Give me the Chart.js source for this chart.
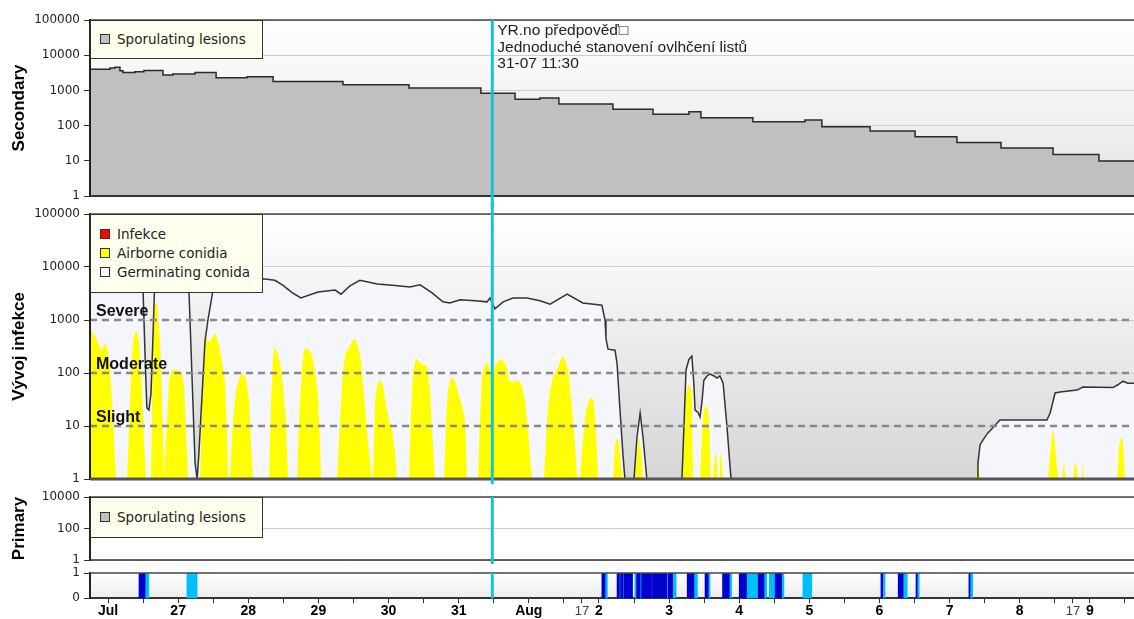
<!DOCTYPE html>
<html>
<head>
<meta charset="utf-8">
<script src="https://cdn.jsdelivr.net/npm/chart.js@4.4.1/dist/chart.umd.min.js"></script>
<style>
  html, body { margin: 0; padding: 0; background: #fff; overflow: hidden; }
  #wrap { position: relative; width: 1134px; height: 619px; }
  canvas { position: absolute; left: 0; }
  .legend { position: absolute; left: 90px; width: 173px; box-sizing: border-box; background: #ffffee; border: 1px solid #333;
            font: 13.5px "DejaVu Sans", sans-serif; color: #222; }
  .legend div { position: relative; height: 19px; line-height: 19px; padding-left: 26px; white-space: nowrap; }
  .legend span { position: absolute; left: 9px; top: 4px; width: 8px; height: 8px; border: 1px solid #333; }
</style>
</head>
<body>
<div id="wrap">
  <canvas id="c1" width="1134" height="208" style="top:0px"></canvas>
  <canvas id="c2" width="1134" height="289" style="top:202px"></canvas>
  <canvas id="c3" width="1134" height="87" style="top:485px"></canvas>
  <canvas id="c4" width="1134" height="59" style="top:561px"></canvas>
</div>
<script>
// time axis: hours since 26-07 00:00
const xMin = -6.16, xMax = 351.1;
const nowHour = 131.5; // 31-07 11:30
const nowNote = ['YR.no předpověď□', 'Jednoduché stanovení ovlhčení listů', '31-07 11:30'];

const dayTickHours = [0, 24, 48, 72, 96, 120, 144, 168, 192, 216, 240, 264, 288, 312, 336];
const dayTickLabels = ['Jul', '27', '28', '29', '30', '31', 'Aug', '2', '3', '4', '5', '6', '7', '8', '9'];
const extraTickHours = [162.2, 330.2];
const extraTickLabels = ['17', '17'];

const logTicks = [1, 10, 100, 1000, 10000, 100000];
const primaryTicks = [1, 100, 10000];
const stripTicks = [0, 1];

const thresholdVals = [1000, 100, 10];
const thresholdLabels = ['Severe', 'Moderate', 'Slight'];

const secLegend = ['Sporulating lesions'];
const infLegend = ['Infekce', 'Airborne conidia', 'Germinating conida'];
const infLegendColors = ['#ff0000', '#ffff00', '#f8f8ff'];

// Secondary - sporulating lesions
const secHours = [-6.2, 0.7, 2.4, 4.1, 5.1, 9.2, 12.3, 18.8, 22.2, 29.8, 37.0, 47.6, 56.5, 80.4, 103.0, 127.6, 139.3,
  147.8, 154.3, 172.8, 186.5, 198.8, 202.9, 220.7, 238.5, 244.3, 260.8, 276.2, 290.5, 305.6, 323.4, 339.1, 351.2];
const secVals = [3980, 4330, 4540, 3600, 3200, 3380, 3700, 2730, 2920, 3200, 2300, 2450, 1800, 1450, 1170, 830, 560,
  610, 410, 290, 210, 248, 168, 129, 144, 93, 70, 48, 33, 23, 15, 9.9, 9.9];

// germinating conida
const germHours = [-6.2, 7.5, 11.3, 12.0, 12.7, 13.3, 14.0, 14.7, 15.4, 15.9, 16.8, 26.7, 27.7, 28.7, 29.8, 30.5, 31.1,
  32.2, 33.2, 34.2, 35.9, 37.6, 50.3, 53.0, 57.1, 59.9, 63.0, 66.0, 71.9, 77.7, 79.7, 82.8, 86.2, 92.1, 98.2, 103.3,
  106.8, 110.9, 114.6, 117.0, 120.5, 125.6, 129.7, 130.7, 132.4, 135.2, 138.6, 143.4, 147.8, 151.3, 157.1, 162.5,
  169.0, 170.1, 170.4, 171.1, 173.5, 174.2, 175.2, 176.2, 176.9, 180.0, 181.0, 182.1, 183.1, 184.4, 196.4, 197.1,
  197.8, 198.8, 199.8, 200.5, 200.9, 201.9, 202.6, 203.3, 203.9, 205.0, 206.0, 207.4, 208.4, 209.4, 210.5, 211.8,
  213.2, 297.4, 297.7, 298.4, 299.4, 301.1, 302.8, 305.2, 321.3, 322.4, 324.1, 325.8, 331.6, 333.6, 343.9, 345.6,
  347.3, 349.0, 351.2];
const germVals = [6000, 6000, 5000, 3600, 200, 22, 20, 40, 500, 3600, 5500, 5500, 3600, 100, 2, 1, 3,
  40, 400, 1000, 3600, 4800, 5600, 6000, 5600, 4500, 3300, 2600, 3370, 3670, 3070, 4400, 5600, 4800, 4500, 4200,
  4600, 3240, 2200, 2100, 2400, 2300, 2200, 2600, 1620, 2200, 2600, 2600, 2300, 1990, 3070, 2100,
  1900, 1000, 450, 282, 270, 150, 20, 3, 1, 1, 6, 17.6, 6, 1, 1, 10,
  114, 180, 209, 60, 20, 18, 14.8, 30, 73, 88, 95, 88, 80, 88, 64, 10,
  1, 1, 2, 4.4, 5.4, 7.4, 9.3, 13, 13, 17.6, 42, 44, 47.6, 54.5, 53, 60,
  70, 64, 64];

// airborne conidia
const airHours = [
  -6.2, -4.1, -2.4, -1.4, -0.7, 0, 0.7, 1.4, 2.1, 2.7,
  6.5, 7.2, 7.9, 8.6, 9.6, 10.3, 11.0, 11.6, 12.3, 13.0,
  14.7, 15.1, 15.4, 16.1, 16.8, 17.1, 17.8, 18.5, 19.2,
  19.5, 20.2, 20.9, 21.9, 24.0, 25.3, 26.0, 26.7, 27.4,
  31.5, 32.2, 32.9, 33.5, 34.9, 36.6, 37.6, 38.7, 40.0, 40.7, 41.1,
  41.7, 42.8, 43.8, 45.2, 46.2, 47.2, 48.3, 48.9, 49.6,
  55.1, 55.8, 56.5, 57.1, 57.8, 58.9, 59.9, 60.9, 61.6,
  64.7, 65.4, 66.4, 67.1, 67.8, 68.8, 69.8, 70.8, 71.9, 72.5, 72.9,
  78.4, 79.4, 80.4, 81.4, 82.5, 83.5, 84.5, 85.5, 86.6, 87.6, 88.6, 89.7, 90.3,
  90.7, 91.4, 92.1, 93.1, 94.1, 95.1, 96.2, 97.2, 98.2, 98.9,
  103.0, 103.7, 104.4, 105.4, 106.4, 107.4, 109.2, 110.2, 110.9, 111.9,
  115.0, 115.7, 116.3, 117.4, 118.1, 119.1, 120.1, 121.1, 122.2, 122.9,
  126.6, 127.3, 128.0, 129.0, 130.0, 131.1, 132.1, 133.1, 134.8, 136.2, 137.2, 138.6, 140.3, 141.7, 142.7, 143.7, 145.1,
  149.2, 150.2, 151.3, 152.3, 154.0, 155.4, 156.4, 157.4, 158.4, 159.5, 160.5,
  161.5, 162.5, 163.6, 164.6, 165.6, 166.3, 167.0, 167.7,
  172.8, 173.5, 174.2, 174.9, 175.5, 176.2,
  180.3, 181.0, 181.7, 182.4, 183.1,
  196.4, 197.1, 197.8, 198.5, 199.2, 199.8, 200.2,
  202.6, 203.3, 203.9, 205.0, 205.7, 206.3,
  207.0, 207.7, 208.1, 208.7,
  209.1, 209.4, 209.8, 210.5,
  297.0, 297.4, 298.1,
  321.7, 322.4, 323.0, 323.4, 323.7, 324.4, 325.1,
  326.5, 327.1, 327.8,
  330.2, 330.9, 331.2, 331.9,
  333.0, 333.3, 334.0,
  345.3, 346.0, 346.6, 347.3, 348.0,
  351.2];
const airVals = [
  706, 457, 272, 323, 352, 249, 114, 31, 5.4, 1,
  1, 8.4, 114, 420, 648, 521, 218, 48, 5.4, 1,
  1, 31, 1000, 1919, 2090, 1243, 420, 31, 1,
  1, 13, 74, 114, 114, 100, 60, 8.4, 1,
  1, 31, 337, 457, 384, 569, 420, 218, 74, 8.4, 1,
  1, 13, 48, 88, 100, 80, 31, 5.4, 1,
  1, 31, 218, 310, 249, 155, 60, 13, 1,
  1, 13, 141, 272, 296, 272, 218, 114, 38, 5.4, 1,
  1, 13, 114, 249, 296, 401, 438, 337, 161, 38, 8.4, 2, 1,
  1, 31, 60, 74, 60, 25, 13, 8.4, 3.5, 1,
  1, 20, 114, 192, 161, 148, 135, 48, 8.4, 1,
  1, 13, 48, 80, 84, 60, 38, 25, 13, 1,
  1, 13, 92, 148, 155, 92, 114, 161, 184, 141, 74, 67, 74, 57, 31, 8.4, 1,
  1, 13, 48, 84, 130, 209, 176, 114, 38, 8.4, 1,
  1, 5.4, 20, 31, 35, 28, 8.4, 1,
  1, 4.4, 6.2, 4.4, 1.8, 1,
  1, 2.8, 6.2, 3.5, 1,
  1, 8.4, 38, 60, 57, 44, 1,
  1, 8.4, 20, 25, 13, 1,
  1, 2.8, 3.1, 1,
  1, 2.8, 3.1, 1,
  1, 2.1, 1,
  1, 2.8, 6.8, 8.4, 6.8, 2.8, 1,
  1, 2.1, 1,
  1, 2.1, 2.1, 1,
  1, 2.1, 1,
  1, 4.4, 6.2, 5.4, 1,
  1];

// primary - no sporulating lesions
const primHours = [];
const primVals = [];

// leaf wetness strip [start, end] in hours
const wetDark = [[10.6, 12.7], [169.0, 170.1], [174.2, 175.0], [175.4, 176.3], [176.7, 179.5], [180.9, 182.1],
  [182.6, 186.0], [186.3, 191.2], [191.7, 193.2], [198.2, 200.5], [204.3, 205.4], [210.3, 212.6], [216.0, 218.5],
  [222.5, 224.5], [228.3, 230.5], [264.5, 265.1], [270.4, 272.1], [276.5, 276.9], [294.6, 295.0]];
const wetLight = [[12.7, 14.0], [27.0, 30.5], [170.1, 170.9], [175.0, 175.4], [176.3, 176.7], [180.3, 180.9],
  [182.1, 182.6], [186.0, 186.3], [191.2, 191.7], [193.2, 194.4], [200.5, 201.7], [205.4, 206.0], [212.6, 213.4],
  [218.5, 222.5], [224.5, 225.4], [226.3, 228.3], [230.5, 231.3], [237.8, 240.8], [265.1, 265.9], [272.1, 273.5],
  [276.9, 277.6], [295.0, 295.9]];

const pts = (xs, ys) => xs.map((x, i) => ({ x: x, y: ys[i] }));

Chart.defaults.font.family = '"DejaVu Sans", sans-serif';
Chart.defaults.font.size = 12;
const BOLD = '"Liberation Sans", Arial, sans-serif';

const panelPlugin = {
  id: 'panel',
  beforeDraw(chart, args, o) {
    const { ctx, chartArea: a } = chart;
    const g = ctx.createLinearGradient(0, a.top, 0, a.bottom);
    g.addColorStop(0, o.bgTop);
    g.addColorStop(1, o.bgBottom);
    ctx.save();
    ctx.fillStyle = g;
    ctx.fillRect(a.left, a.top, a.right - a.left, a.bottom - a.top);
    ctx.restore();
  },
  afterDatasetsDraw(chart, args, o) {
    if (!o.thresholds) return;
    const { ctx, chartArea: a } = chart;
    const y = chart.scales.y;
    ctx.save();
    ctx.strokeStyle = '#888';
    ctx.lineWidth = 2.5;
    ctx.setLineDash([7, 5]);
    ctx.font = 'bold 16px ' + BOLD;
    ctx.fillStyle = '#111';
    thresholdVals.forEach((v, i) => {
      const py = Math.round(y.getPixelForValue(v));
      ctx.beginPath();
      ctx.moveTo(a.left, py);
      ctx.lineTo(a.right, py);
      ctx.stroke();
      ctx.fillText(thresholdLabels[i], a.left + 6, py - 4);
    });
    ctx.restore();
  },
  afterDraw(chart, args, o) {
    const { ctx, chartArea: a } = chart;
    ctx.save();
    ctx.strokeStyle = '#444';
    ctx.lineWidth = o.frameTop;
    ctx.beginPath(); ctx.moveTo(a.left, a.top); ctx.lineTo(a.right, a.top); ctx.stroke();
    if (o.frameBottom) {
      ctx.lineWidth = o.frameBottom;
      ctx.strokeStyle = o.frameBottomColor || '#333';
      ctx.beginPath(); ctx.moveTo(a.left, a.bottom); ctx.lineTo(a.right, a.bottom); ctx.stroke();
    }
    const nx = chart.scales.x.getPixelForValue(nowHour);
    ctx.strokeStyle = '#18c4cc';
    ctx.lineWidth = 3;
    ctx.beginPath();
    ctx.moveTo(nx, a.top - (o.nowUp || 0));
    ctx.lineTo(nx, a.bottom + (o.nowDown || 0));
    ctx.stroke();
    if (o.note) {
      ctx.font = '15.5px ' + BOLD;
      ctx.fillStyle = '#222';
      ctx.textBaseline = 'middle';
      nowNote.forEach((t, i) => ctx.fillText(t, nx + 5, a.top + 11 + i * 16.5));
    }
    ctx.restore();
  }
};

function yLog(tickVals, title) {
  return {
    type: 'logarithmic',
    min: tickVals[0],
    max: tickVals[tickVals.length - 1],
    afterBuildTicks: s => { s.ticks = tickVals.map(v => ({ value: v })); },
    afterFit: s => { s.width = 90; },
    ticks: { callback: v => String(v), color: '#222', padding: 4, autoSkip: false },
    grid: { color: '#cccccc', tickColor: '#333', tickLength: 6 },
    border: { color: '#222', width: 2, z: 1 },
    title: { display: true, text: title, color: '#000', font: { family: BOLD, size: 17, weight: 'bold' },
             padding: { top: 9, bottom: 0 } }
  };
}

function options(padTop, padBottom, panel, y) {
  return {
    responsive: false,
    animation: false,
    layout: { padding: { top: padTop, bottom: padBottom, left: 0, right: 0 } },
    elements: { point: { radius: 0 } },
    plugins: { legend: { display: false }, tooltip: { enabled: false }, panel: panel },
    scales: { x: { type: 'linear', min: xMin, max: xMax, display: false }, y: y }
  };
}

// Secondary
new Chart(document.getElementById('c1'), {
  type: 'line',
  data: { datasets: [{
    label: secLegend[0], data: pts(secHours, secVals), stepped: true, fill: 'start',
    backgroundColor: '#c0c0c0', borderColor: '#2a2a2a', borderWidth: 1.5
  }] },
  options: options(20, 12, { bgTop: '#ffffff', bgBottom: '#e4e4e4', frameTop: 1.5, frameBottom: 2,
    nowDown: 12, note: true }, yLog(logTicks, 'Secondary')),
  plugins: [panelPlugin]
});

// Vývoj infekce
new Chart(document.getElementById('c2'), {
  type: 'line',
  data: { datasets: [
    { label: infLegend[2], data: pts(germHours, germVals), fill: false, borderColor: '#333', borderWidth: 1.5 },
    { label: infLegend[1], data: pts(airHours, airVals), fill: 'start', backgroundColor: '#ffff00',
      borderColor: 'rgba(0,0,0,0)', borderWidth: 0 },
    { label: infLegend[2], data: pts(germHours, germVals), fill: 'start', backgroundColor: '#f5f6fc',
      borderColor: 'rgba(0,0,0,0)', borderWidth: 0 }
  ] },
  options: options(12, 12, { bgTop: '#ffffff', bgBottom: '#d6d6d6', frameTop: 1.5, frameBottom: 3,
    frameBottomColor: '#555', thresholds: true, nowUp: 12, nowDown: 5 }, yLog(logTicks, 'Vývoj infekce')),
  plugins: [panelPlugin]
});

// Primary
new Chart(document.getElementById('c3'), {
  type: 'line',
  data: { datasets: [{ label: secLegend[0], data: pts(primHours, primVals), fill: 'start',
    backgroundColor: '#c0c0c0', borderColor: '#2a2a2a', borderWidth: 1.5 }] },
  options: options(12, 12, { bgTop: '#ffffff', bgBottom: '#ffffff', frameTop: 1.5, frameBottom: 1.5,
    nowDown: 4 }, yLog(primaryTicks, 'Primary')),
  plugins: [panelPlugin]
});

// leaf wetness strip
const stripOpts = options(12, 0, { bgTop: '#ffffff', bgBottom: '#ececec', frameTop: 1.5, frameBottom: 0 }, {
  type: 'linear', min: 0, max: 1, offset: false,
  afterBuildTicks: s => { s.ticks = stripTicks.map(v => ({ value: v })); },
  afterFit: s => { s.width = 90; },
  ticks: { callback: v => String(v), color: '#222', padding: 4 },
  grid: { drawOnChartArea: false, offset: false, tickLength: 6, tickColor: '#333' },
  border: { color: '#222', width: 2, z: 1 }
});
stripOpts.indexAxis = 'y';
stripOpts.scales.x = {
  type: 'linear', min: xMin, max: xMax,
  afterBuildTicks: s => {
    const t = [];
    for (let h = 0; h <= xMax; h += 12) t.push(h);
    extraTickHours.forEach(h => t.push(h));
    t.sort((p, q) => p - q);
    s.ticks = t.map(v => ({ value: v }));
  },
  ticks: {
    autoSkip: false, maxRotation: 0, minRotation: 0, padding: 0,
    callback: v => {
      const i = dayTickHours.indexOf(v);
      if (i >= 0) return dayTickLabels[i];
      const j = extraTickHours.indexOf(v);
      return j >= 0 ? extraTickLabels[j] : '';
    },
    color: c => (c.tick && extraTickHours.includes(c.tick.value) ? '#444' : '#000'),
    font: c => (c.tick && extraTickHours.includes(c.tick.value)
      ? { family: BOLD, size: 13, weight: 'normal' } : { family: BOLD, size: 14, weight: 'bold' })
  },
  grid: { drawOnChartArea: false, drawTicks: true, tickLength: 5, tickColor: '#333' },
  border: { color: '#333', width: 2 }
};
const bar = (list, color) => ({
  data: list.map(r => ({ x: r, y: 0.5 })), backgroundColor: color, borderWidth: 0,
  grouped: false, barPercentage: 1, categoryPercentage: 1
});
new Chart(document.getElementById('c4'), {
  type: 'bar',
  data: { datasets: [bar(wetDark, '#0000cc'), bar(wetLight, '#00bfff')] },
  options: stripOpts,
  plugins: [panelPlugin]
});

// legends
const wrap = document.getElementById('wrap');
function addLegend(top, height, padTop, labels, colors) {
  const box = document.createElement('div');
  box.className = 'legend';
  box.style.top = top + 'px';
  box.style.height = height + 'px';
  box.style.paddingTop = padTop + 'px';
  labels.forEach((t, i) => {
    const row = document.createElement('div');
    const sw = document.createElement('span');
    sw.style.background = colors[i];
    row.appendChild(sw);
    row.appendChild(document.createTextNode(t));
    box.appendChild(row);
  });
  wrap.appendChild(box);
}
addLegend(20, 39, 9, secLegend, ['#c0c0c0']);
addLegend(214, 79, 10, infLegend, infLegendColors);
addLegend(497, 41, 10, secLegend, ['#c0c0c0']);
</script>
</body>
</html>
